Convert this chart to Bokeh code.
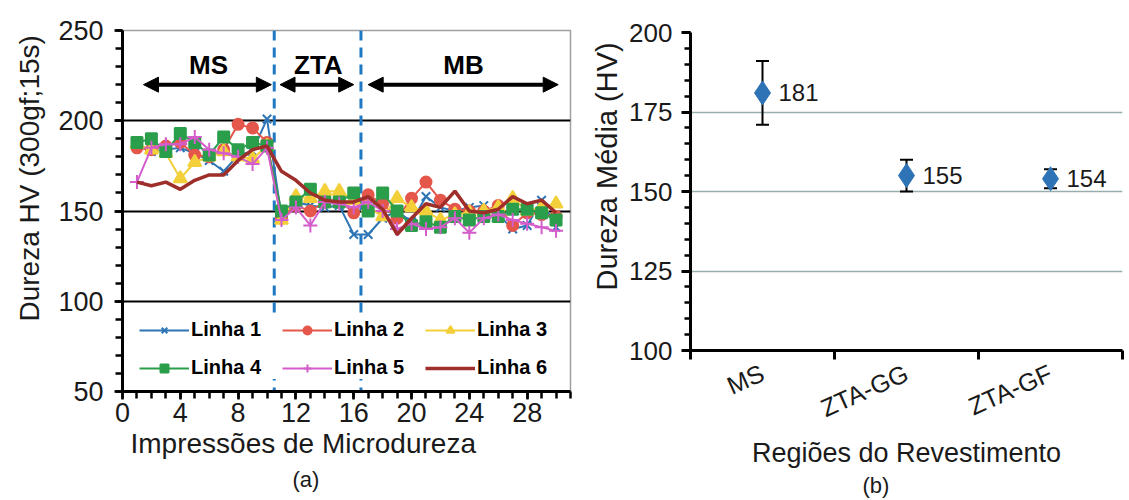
from bokeh.plotting import figure
from bokeh.models import (FixedTicker, Span, Arrow, NormalHead, Label, Title,
                          Whisker, TeeHead, ColumnDataSource, Range1d)
from bokeh.layouts import row
from bokeh.embed import file_html
from bokeh.resources import INLINE
from bokeh.core.properties import value

FONT = "Liberation Sans"
TXT = "#1a1a1a"

# ---------------- data: chart (a) ----------------
impressoes = list(range(1, 31))
linha_1 = [186, 183, 184, 185, 182, 178, 172, 181, 183, 201, 147, 155, 153, 152, 153,
           137, 137, 146, 150, 144, 158, 152, 150, 152, 153, 148, 140, 142, 156, 141]
linha_2 = [185, 184, 186, 188, 181, 180, 184, 198, 196, 188, 146, 153, 150, 155, 156,
           149, 159, 154, 146, 157, 166, 156, 151, 150, 150, 153, 142, 149, 148, 147]
linha_3 = [187, 184, 182, 168, 177, 180, 183, 180, 179, 186, 145, 158, 157, 161, 161,
           156, 152, 147, 157, 152, 150, 145, 148, 149, 150, 152, 157, 150, 152, 154]
linha_4 = [188, 190, 183, 193, 188, 181, 191, 184, 188, 186, 150, 155, 162, 155, 155,
           160, 150, 160, 150, 142, 144, 141, 147, 145, 147, 147, 151, 151, 149, 145]
linha_5 = [166, 185, 187, 187, 191, 184, 182, 180, 176, 185, 145, 152, 142, 155, 154,
           152, 155, 150, 140, 143, 140, 141, 146, 138, 146, 148, 145, 143, 141, 139]
linha_6 = [166, 164, 166, 162, 167, 170, 170, 178, 184, 186, 172, 167, 160, 156, 155,
           155, 158, 151, 137, 146, 154, 152, 161, 150, 149, 151, 158, 154, 156, 149]
series = [linha_1, linha_2, linha_3, linha_4, linha_5, linha_6]
nomes = ["Linha 1", "Linha 2", "Linha 3", "Linha 4", "Linha 5", "Linha 6"]
cores = ["#2E75B6", "#E5564B", "#F3CF3A", "#2A9E4B", "#D45CCB", "#9E2E2A"]
marcadores = ["x", "circle", "triangle", "square", "cross", None]
limites_zonas = [10.5, 16.5]
zonas = ["MS", "ZTA", "MB"]

# ---------------- data: chart (b) ----------------
regioes = ["MS", "ZTA-GG", "ZTA-GF"]
dureza_media = [181, 155, 154]
erro_inf = [171, 150, 151]
erro_sup = [191, 160, 157]


def title(text, size, offset, standoff):
    return Title(text=text, align="left", offset=offset, standoff=standoff,
                 text_font=FONT, text_font_size=size, text_font_style="normal",
                 text_color=TXT)


# =============== figure (a) ===============
p1 = figure(width=575, height=498, x_range=Range1d(0, 31), y_range=Range1d(50, 250),
            output_backend="svg", toolbar_location=None,
            min_border_left=122, min_border_right=5, min_border_top=30, min_border_bottom=107)
p1.frame_align = False
p1.outline_line_color = "#a0a0a0"
p1.outline_line_width = 1.5
p1.xgrid.visible = False
p1.ygrid.ticker = FixedTicker(ticks=[100, 150, 200])
p1.ygrid.grid_line_color = "black"
p1.ygrid.grid_line_width = 2

for ax in (p1.xaxis[0], p1.yaxis[0]):
    ax.axis_line_width = 3
    ax.major_tick_line_width = 2.5
    ax.minor_tick_line_width = 2.5
    ax.major_tick_in = 0
    ax.minor_tick_in = 0
    ax.major_tick_out = 8
    ax.minor_tick_out = 7
    ax.major_label_text_font = FONT
    ax.major_label_text_font_size = "27px"
    ax.major_label_text_color = TXT
p1.yaxis[0].ticker = FixedTicker(ticks=[50, 100, 150, 200, 250], minor_ticks=list(range(50, 251, 10)))
p1.yaxis[0].major_label_standoff = 11
p1.xaxis[0].ticker = FixedTicker(ticks=list(range(0, 29, 4)), minor_ticks=list(range(0, 32)))
p1.xaxis[0].major_label_standoff = 3

for loc in limites_zonas:
    p1.add_layout(Span(location=loc, dimension="height", line_color="#1E78C2",
                       line_dash="10 7", line_width=3, level="underlay"))

for ys, nome, cor, mk in zip(series, nomes, cores, marcadores):
    if mk is None:
        p1.line(impressoes, ys, line_color=cor, line_width=3.5, legend_label=nome)
    else:
        p1.line(impressoes, ys, line_color=cor, line_width=2, legend_label=nome)
        size = {"x": 12, "circle": 11, "triangle": 13, "square": 11, "cross": 14}[mk]
        p1.scatter(impressoes, ys, marker=mk, size=size, line_color=cor, fill_color=cor,
                   line_width=2, legend_label=nome)

# region arrows and labels
arrow_spans = [(1.45, 10.3), (10.9, 16.0), (17.0, 30.15)]
label_x = [5.95, 13.55, 23.6]
for (xs, xe), lx, z in zip(arrow_spans, label_x, zonas):
    p1.add_layout(Arrow(x_start=xs, y_start=220, x_end=xe, y_end=220, line_width=4,
                        line_color="black",
                        start=NormalHead(size=15, fill_color="black", line_color="black"),
                        end=NormalHead(size=15, fill_color="black", line_color="black")))
    p1.add_layout(Label(x=lx, y=231, text=z, text_align="center", text_baseline="middle",
                        text_font=FONT, text_font_size="26px", text_font_style="bold",
                        text_color="black"))

lg = p1.legend[0]
lg.orientation = "horizontal"
lg.ncols = 3
lg.location = (17, 12)
lg.glyph_width = 50
lg.glyph_height = 20
lg.label_standoff = 2
lg.label_width = 76
lg.spacing = 15
lg.padding = 4
lg.margin = 0
lg.label_text_font = FONT
lg.label_text_font_size = "20px"
lg.label_text_font_style = "bold"
lg.label_text_color = "black"
lg.border_line_color = None
lg.background_fill_alpha = 1

p1.add_layout(title("Dureza HV (300gf;15s)", "28px", 70, 22), "left")
p1.add_layout(title("Impressões de Microdureza", "28px", 8, 3), "below")
p1.add_layout(title("(a)", "22px", 170, 8), "below")

# =============== figure (b) ===============
pos = [i + 0.5 for i in range(len(regioes))]
src = ColumnDataSource(dict(x=pos, y=dureza_media, lo=erro_inf, hi=erro_sup,
                            txt=[str(v) for v in dureza_media]))

p2 = figure(width=553, height=498, x_range=Range1d(0, len(regioes)), y_range=Range1d(100, 200),
            output_backend="svg", toolbar_location=None,
            min_border_left=115, min_border_right=6, min_border_top=32, min_border_bottom=148)
p2.frame_align = False
p2.outline_line_color = None
p2.xgrid.visible = False
p2.ygrid.grid_line_color = "#98AEAE"
p2.ygrid.grid_line_width = 1.5

ya2 = p2.yaxis[0]
xa2 = p2.xaxis[0]
ya2.ticker = FixedTicker(ticks=[100, 125, 150, 175, 200], minor_ticks=list(range(100, 201, 5)))
xa2.ticker = FixedTicker(ticks=pos, minor_ticks=list(range(len(regioes) + 1)))
xa2.major_label_overrides = {p: r for p, r in zip(pos, regioes)}
for ax in (xa2, ya2):
    ax.axis_line_width = 3
    ax.major_tick_line_width = 3
    ax.minor_tick_line_width = 2.5
    ax.major_tick_in = 0
    ax.minor_tick_in = 0
    ax.major_tick_out = 9
    ax.minor_tick_out = 6
    ax.major_label_text_font = FONT
    ax.major_label_text_font_size = "26px"
    ax.major_label_text_color = TXT
    ax.axis_label_text_font = FONT
    ax.axis_label_text_font_style = "normal"
    ax.axis_label_text_color = TXT
ya2.major_label_standoff = 9
xa2.major_tick_line_color = None
xa2.minor_tick_out = 9
xa2.minor_tick_line_width = 3
xa2.major_label_orientation = 0.42
xa2.major_label_standoff = 12
xa2.major_label_text_font_size = "25px"
xa2.axis_label = "Regiões do Revestimento"
xa2.axis_label_text_font_size = "27px"
xa2.axis_label_standoff = 0

p2.add_layout(title("Dureza Média (HV)", "29px", 60, 7), "left")
p2.add_layout(title("(b)", "22px", 172, 0), "below")

wh = Whisker(base="x", lower="lo", upper="hi", source=src, line_color="black", line_width=2,
             level="underlay",
             lower_head=TeeHead(size=13, line_color="black", line_width=2),
             upper_head=TeeHead(size=13, line_color="black", line_width=2))
p2.add_layout(wh)
p2.scatter("x", "y", source=src, marker="diamond", size=24, fill_color="#2F73B7",
           line_color="#2F73B7")
p2.text("x", "y", text="txt", source=src, x_offset=16, text_baseline="middle",
        text_align="left", text_font=value(FONT), text_font_size="24px", text_color=TXT)

layout = row(p1, p2)
open("out.html", "w").write(file_html(layout, INLINE))
